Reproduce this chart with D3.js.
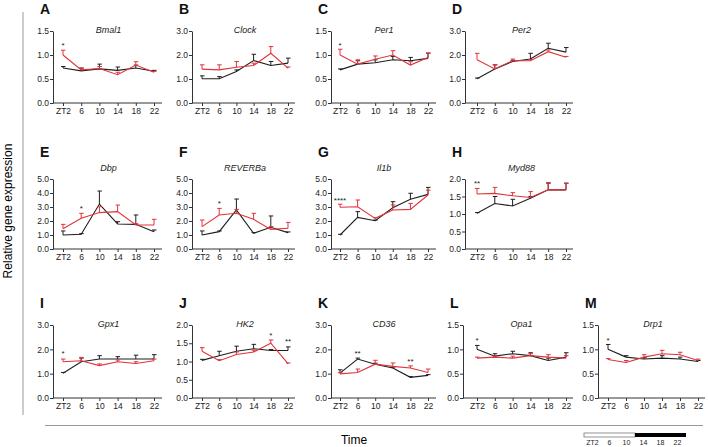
<!DOCTYPE html>
<html><head><meta charset="utf-8">
<script src="https://cdn.jsdelivr.net/npm/d3@7"></script>
<style>body{margin:0;background:#fff} svg{display:block} text{font-family:"Liberation Sans",Arial,sans-serif}</style>
</head><body>
<svg id="chart" width="708" height="447"></svg>
<script>
// ---------- data ----------
const timepoints = ["ZT2","6","10","14","18","22"];
const panelLetters = ["A","B","C","D","E","F","G","H","I","J","K","L","M"];
const geneNames = ["Bmal1","Clock","Per1","Per2","Dbp","REVERBa","Il1b","Myd88","Gpx1","HK2","CD36","Opa1","Drp1"];
const yMaxes = [1.5,3,1.5,3,5,5,5,2,3,2,3,1.5,1.5];
const yTickSteps = [0.5,1,0.5,1,1,1,1,0.5,1,0.5,1,0.5,0.5];
const controlMeans = [
  [0.73,0.67,0.71,0.68,0.73,0.66],
  [1.01,1.01,1.31,1.77,1.56,1.66],
  [0.69,0.81,0.84,0.90,0.88,0.93],
  [1.01,1.42,1.73,1.83,2.28,2.12],
  [1.00,1.05,3.21,1.79,1.76,1.24],
  [1.00,1.24,2.79,1.12,1.55,1.17],
  [1.00,2.26,2.02,2.95,3.55,3.90],
  [1.02,1.30,1.23,1.45,1.69,1.69],
  [1.02,1.49,1.60,1.60,1.60,1.60],
  [1.03,1.16,1.28,1.35,1.30,1.30],
  [1.02,1.60,1.39,1.23,0.85,0.93],
  [1.00,0.86,0.91,0.87,0.77,0.84],
  [1.00,0.84,0.80,0.82,0.80,0.75]
];
const controlErrs = [
  [0.03,0.06,0.10,0.07,0.06,0.02],
  [0.12,0.09,0.07,0.26,0.17,0.21],
  [0.02,0.07,0.06,0.07,0.07,0.11],
  [0.03,0.17,0.05,0.24,0.21,0.19],
  [0.29,0.05,0.93,0.16,0.67,0.12],
  [0.29,0.05,0.78,0.05,0.81,0.05],
  [0.05,0.41,0.05,0.43,0.43,0.50],
  [0.02,0.20,0.19,0.05,0.19,0.19],
  [0.03,0.15,0.14,0.10,0.16,0.18],
  [0.03,0.12,0.14,0.12,0.03,0.10],
  [0.14,0.04,0.04,0.04,0.03,0.03],
  [0.08,0.05,0.05,0.06,0.05,0.09],
  [0.10,0.03,0.03,0.05,0.04,0.02]
];
const treatedMeans = [
  [1.00,0.69,0.72,0.59,0.79,0.64],
  [1.41,1.38,1.49,1.56,2.07,1.45],
  [1.00,0.81,0.91,1.00,0.79,0.95],
  [1.80,1.42,1.76,1.76,2.14,1.91],
  [1.45,2.19,2.60,2.67,1.71,1.71],
  [1.60,2.43,2.55,2.12,1.40,1.48],
  [2.98,3.02,2.19,2.79,2.83,3.86],
  [1.57,1.59,1.52,1.47,1.69,1.69],
  [1.49,1.53,1.33,1.49,1.42,1.53],
  [1.28,1.02,1.19,1.26,1.50,0.94],
  [0.99,1.05,1.39,1.30,1.23,1.05],
  [0.82,0.84,0.82,0.87,0.84,0.82],
  [0.79,0.73,0.84,0.91,0.89,0.77]
];
const treatedErrs = [
  [0.10,0.03,0.04,0.05,0.07,0.02],
  [0.18,0.21,0.24,0.10,0.28,0.05],
  [0.12,0.09,0.07,0.09,0.07,0.09],
  [0.27,0.17,0.07,0.05,0.07,0.03],
  [0.31,0.36,0.42,0.47,0.10,0.41],
  [0.47,0.47,0.28,0.43,0.20,0.42],
  [0.22,0.48,0.05,0.35,0.43,0.34],
  [0.16,0.17,0.09,0.17,0.21,0.19],
  [0.11,0.14,0.07,0.07,0.07,0.07],
  [0.10,0.03,0.07,0.05,0.09,0.02],
  [0.05,0.14,0.16,0.14,0.09,0.14],
  [0.02,0.02,0.04,0.04,0.05,0.05],
  [0.02,0.04,0.05,0.07,0.05,0.03]
];
const starPanels = [0,2,4,5,6,7,8,9,9,10,10,11,12];
const starTimes  = [0,0,1,1,0,0,0,4,5,1,4,0,0];
const starMarks  = ["*","*","*","*","****","**","*","*","**","**","**","*","*"];
const starLevels = [1.22,1.22,2.98,3.38,3.55,1.92,1.90,1.75,1.59,1.88,1.58,1.21,1.21];
const cycleHours = [2,6,10,14,18,22];
const cycleTickLabels = ["ZT2","6","10","14","18","22"];

// ---------- layout ----------
const rows = [
  {top:31, bottom:103, title:33, letter:14},
  {top:179, bottom:249, title:171, letter:157},
  {top:325, bottom:398, title:327, letter:308}
];
// [row, axisX, firstTickX, lastTickX, axisEndX]
const panelBoxes = [
  [0,53,63,154,162],[0,192,202,288,295],[0,331,340,428,436],[0,465,477,566,573],
  [1,53,63,154,162],[1,192,202,288,295],[1,331,340,428,436],[1,465,477,566,573],
  [2,53,63,154,162],[2,192,202,288,295],[2,331,340,428,436],[2,463,477,566,573],[2,598,608,698,705]
];
const RED = "#e2323a", BLACK = "#1e1e1e";

const svg = d3.select("#chart");

// frame lines
svg.append("line").attr("x1",23).attr("x2",23).attr("y1",12).attr("y2",415)
  .attr("stroke","#999").attr("stroke-width",1);
svg.append("line").attr("x1",45).attr("x2",703).attr("y1",425.5).attr("y2",425.5)
  .attr("stroke","#999").attr("stroke-width",1);
svg.append("text").attr("transform","translate(12,211) rotate(-90)")
  .attr("text-anchor","middle").attr("font-size",12).text("Relative gene expression");
svg.append("text").attr("x",354).attr("y",444).attr("text-anchor","middle")
  .attr("font-size",12).text("Time");

panelBoxes.forEach((b, i) => {
  const [r, ax, x0, x1, xe] = b;
  const row = rows[r];
  const x = d3.scalePoint().domain(timepoints).range([x0, x1]);
  const y = d3.scaleLinear().domain([0, yMaxes[i]]).range([row.bottom, row.top]);
  const g = svg.append("g");

  // y axis
  const ticks = d3.range(0, yMaxes[i] + 1e-9, yTickSteps[i]);
  const ya = g.append("g").attr("transform", `translate(${ax},0)`)
    .call(d3.axisLeft(y).tickValues(ticks).tickFormat(d3.format(".1f")).tickSize(3).tickSizeOuter(0).tickPadding(1));
  ya.selectAll("text").attr("font-size", 8.5).attr("fill","#222");
  ya.selectAll("line,path").attr("stroke","#333");

  // x axis
  const xa = g.append("g").attr("transform", `translate(0,${row.bottom})`)
    .call(d3.axisBottom(x).tickSize(3).tickPadding(2));
  xa.select(".domain").remove();
  xa.append("line").attr("x1", ax).attr("x2", xe).attr("stroke", "#333");
  xa.selectAll("text").attr("font-size", 8.5).attr("fill","#222");
  xa.selectAll(".tick line").attr("stroke","#333");

  // titles
  g.append("text").attr("x", (x0 + x1) / 2).attr("y", row.title).attr("text-anchor","middle")
    .attr("font-size", 9).attr("font-style","italic").attr("fill","#222").text(geneNames[i]);
  g.append("text").attr("x", ax - 13).attr("y", row.letter).attr("font-size", 14)
    .attr("font-weight","bold").attr("fill","#111").text(panelLetters[i]);

  const series = [
    {m: controlMeans[i], e: controlErrs[i], c: BLACK},
    {m: treatedMeans[i], e: treatedErrs[i], c: RED}
  ];
  series.forEach(s => {
    const pts = timepoints.map((t, k) => ({t, v: s.m[k], e: s.e[k]}));
    g.append("path").datum(pts)
      .attr("d", d3.line().x(d => x(d.t)).y(d => y(d.v)))
      .attr("fill","none").attr("stroke", s.c).attr("stroke-width", 1.1);
    const eb = g.append("g").attr("stroke", s.c).attr("stroke-width", 1);
    eb.selectAll("line.v").data(pts).join("line").attr("class","v")
      .attr("x1", d => x(d.t)).attr("x2", d => x(d.t))
      .attr("y1", d => y(d.v)).attr("y2", d => y(d.v + d.e));
    eb.selectAll("line.c").data(pts).join("line").attr("class","c")
      .attr("x1", d => x(d.t) - 2).attr("x2", d => x(d.t) + 2.5)
      .attr("y1", d => y(d.v + d.e)).attr("y2", d => y(d.v + d.e));
  });

  // significance marks
  starPanels.forEach((p, k) => {
    if (p !== i) return;
    g.append("text").attr("x", x(timepoints[starTimes[k]])).attr("y", y(starLevels[k]) + 4)
      .attr("text-anchor","middle").attr("font-size", 8).attr("fill","#222").text(starMarks[k]);
  });
});

// light/dark bar
const hx = d3.scaleLinear().domain([0, 24]).range([584, 686]);
const bar = svg.append("g");
bar.append("rect").attr("x", hx(0)).attr("y", 433).attr("width", hx(12) - hx(0)).attr("height", 4)
  .attr("fill","#fff").attr("stroke","#777").attr("stroke-width",0.8);
bar.append("rect").attr("x", hx(12)).attr("y", 433).attr("width", hx(24) - hx(12)).attr("height", 4)
  .attr("fill","#000");
bar.selectAll("text").data(cycleHours).join("text")
  .attr("x", d => hx(d)).attr("y", 445).attr("text-anchor","middle")
  .attr("font-size", 7).attr("fill","#222").text((d, k) => cycleTickLabels[k]);
</script>
</body></html>
